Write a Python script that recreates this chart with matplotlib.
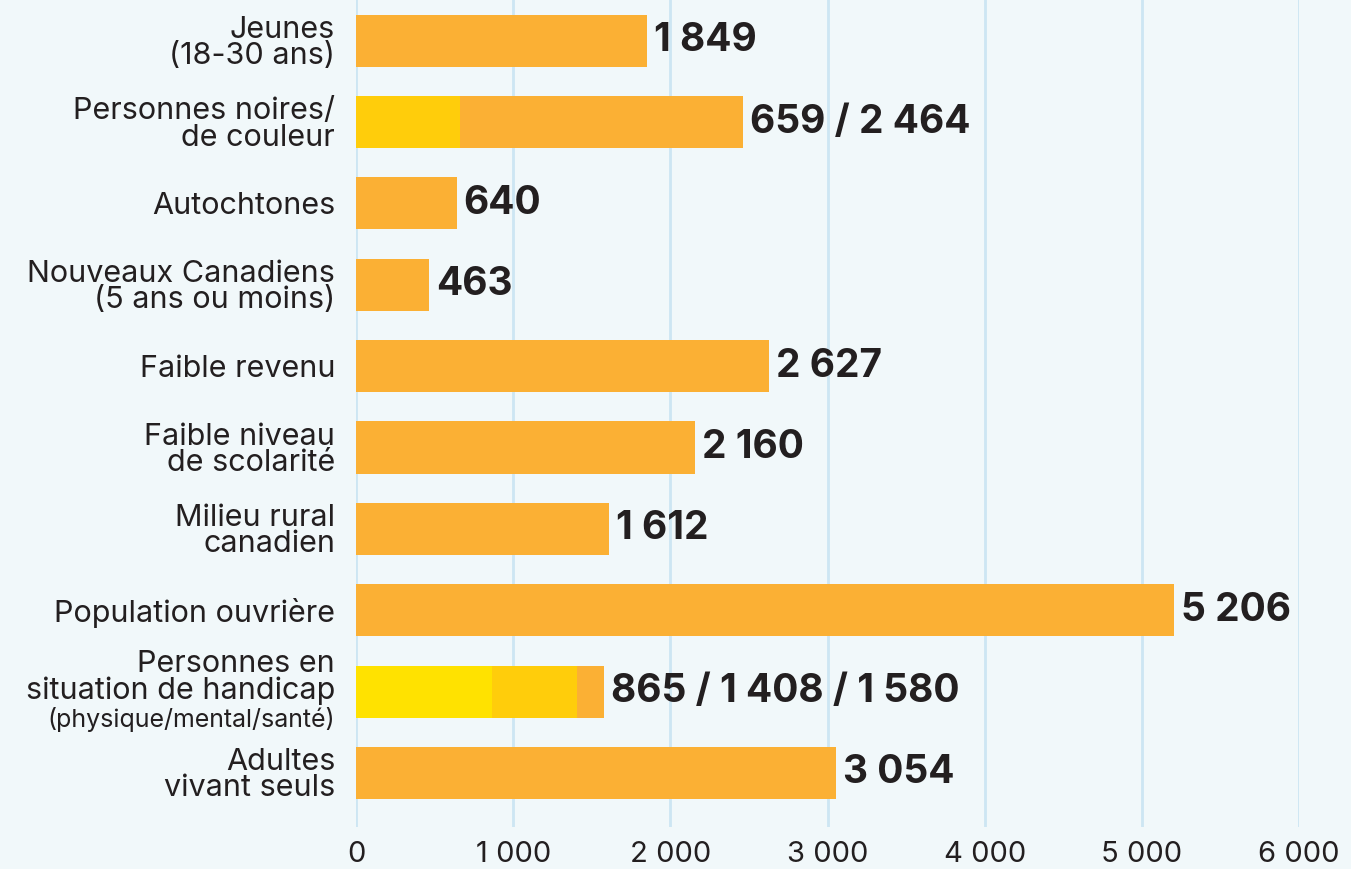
import matplotlib
matplotlib.use("Agg")
import matplotlib.pyplot as plt
from matplotlib.ticker import FuncFormatter

categories = [
    "Jeunes\n(18-30 ans)",
    "Personnes noires/\nde couleur",
    "Autochtones",
    "Nouveaux Canadiens\n(5 ans ou moins)",
    "Faible revenu",
    "Faible niveau\nde scolarité",
    "Milieu rural\ncanadien",
    "Population ouvrière",
    "Personnes en\nsituation de handicap",
    "Adultes\nvivant seuls",
]
handicap_sub = "(physique/mental/santé)"
totals = [1849, 2464, 640, 463, 2627, 2160, 1612, 5206, 1580, 3054]
# nested sub-values (drawn from zero, overlaid on the total bar)
mid_values = [None, 659, None, None, None, None, None, None, 1408, None]
inner_values = [None, None, None, None, None, None, None, None, 865, None]
value_labels = ["1 849", "659 / 2 464", "640", "463", "2 627", "2 160",
                "1 612", "5 206", "865 / 1 408 / 1 580", "3 054"]
xticks = [0, 1000, 2000, 3000, 4000, 5000, 6000]

BG = "#F1F8FA"
ORANGE = "#FBB034"
YELLOW = "#FFCD0B"
LYELLOW = "#FFE200"
GRID = "#CDE6F3"
TXT = "#231F20"

plt.rcParams['font.family'] = ['Inter', 'DejaVu Sans']

fig = plt.figure(figsize=(13.51, 8.69), dpi=100, facecolor=BG)
ax = fig.add_axes([356/1351, 1-827/869, (1299-356)/1351, 827/869])
ax.set_facecolor(BG)

y = list(range(len(categories)))
h = 0.64
ax.barh(y, totals, height=h, color=ORANGE, zorder=3)
for i in y:
    if mid_values[i] is not None:
        ax.barh(i, mid_values[i], height=h, color=YELLOW, zorder=4)
    if inner_values[i] is not None:
        ax.barh(i, inner_values[i], height=h, color=LYELLOW, zorder=5)
    ax.annotate(value_labels[i], xy=(totals[i], i), xytext=(5, 0),
                textcoords='offset points', va='center', ha='left',
                fontsize=28, fontweight='bold', color=TXT, zorder=6)

ax.set_xlim(0, 6000)
ax.set_ylim(9 + 54/81.3, -0.5)
ax.set_xticks(xticks)
ax.xaxis.set_major_formatter(FuncFormatter(lambda v, p: f"{int(v):,}".replace(",", " ")))
ax.set_yticks(y)
labels = list(categories)
labels[8] = ""
ax.set_yticklabels(labels)
for lab in ax.get_yticklabels():
    lab.set_linespacing(0.93)
ax.tick_params(axis='y', length=0, pad=15, labelsize=22, labelcolor=TXT)
ax.tick_params(axis='x', length=0, pad=10, labelsize=21, labelcolor=TXT)
for s in ax.spines.values():
    s.set_visible(False)
ax.xaxis.grid(True, color=GRID, linewidth=2, zorder=0)
ax.yaxis.grid(False)

# handicap label with smaller third line
ax.annotate("Personnes en\nsituation de handicap", xy=(0, 8), xycoords=('axes fraction', 'data'),
            xytext=(-15, 10), textcoords='offset points', ha='right', va='center',
            fontsize=22, color=TXT, linespacing=0.93)
ax.annotate(handicap_sub, xy=(0, 8), xycoords=('axes fraction', 'data'),
            xytext=(-15, -20), textcoords='offset points', ha='right', va='center',
            fontsize=18, color=TXT)

fig.savefig("out.png", dpi=100, facecolor=BG)
